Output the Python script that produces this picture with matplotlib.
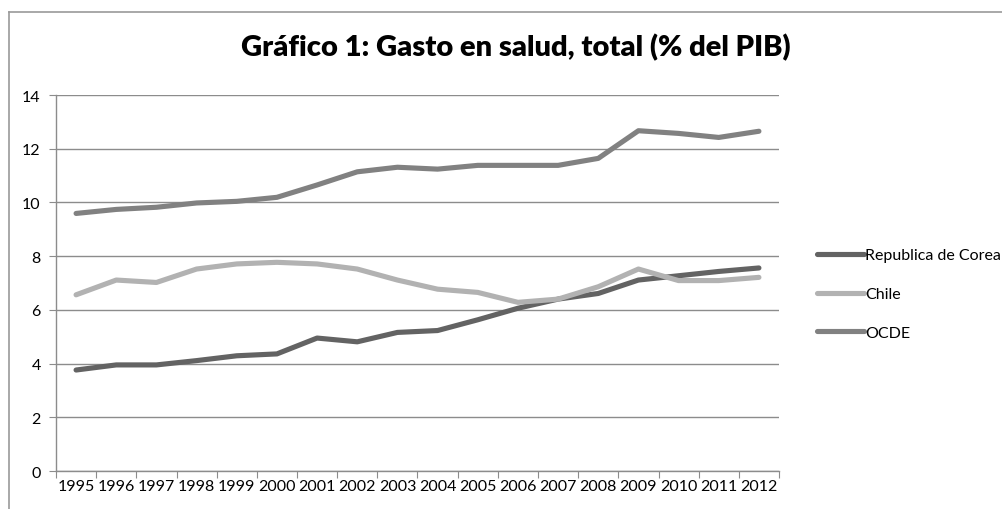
import numpy as np
import matplotlib.pyplot as plt
from matplotlib.lines import Line2D

plt.rcParams.update({"font.family": ["Lato", "DejaVu Sans"]})

years = ["1995", "1996", "1997", "1998", "1999", "2000", "2001", "2002", "2003",
         "2004", "2005", "2006", "2007", "2008", "2009", "2010", "2011", "2012"]

corea = [3.76, 3.95, 3.95, 4.11, 4.29, 4.36, 4.95, 4.81, 5.16,
         5.23, 5.63, 6.06, 6.40, 6.61, 7.11, 7.27, 7.43, 7.56]
chile = [6.56, 7.11, 7.02, 7.52, 7.71, 7.77, 7.71, 7.52, 7.11,
         6.77, 6.65, 6.28, 6.40, 6.86, 7.52, 7.09, 7.09, 7.21]
ocde = [9.59, 9.74, 9.82, 9.98, 10.04, 10.19, 10.65, 11.14, 11.31,
        11.24, 11.38, 11.38, 11.38, 11.64, 12.67, 12.57, 12.42, 12.65]

series = [("Republica de Corea", corea, "#636363"),
          ("Chile", chile, "#b2b2b2"),
          ("OCDE", ocde, "#818181")]

fig = plt.figure(figsize=(10.02, 5.10), dpi=100)
ax = fig.add_axes([56 / 1002, 1 - 472 / 510, 723 / 1002, 376 / 510])

x = np.arange(len(years))
for name, vals, col in series:
    ax.plot(x, vals, color=col, linewidth=3.7, solid_capstyle="round",
            solid_joinstyle="round", label=name, zorder=3)

ax.set_xlim(-0.5, len(years) - 0.5)
ax.set_ylim(0, 14)
ax.set_yticks(range(0, 15, 2))
ax.set_yticklabels([str(v) for v in range(0, 15, 2)], fontsize=11.5)
ax.yaxis.grid(True, color="#8c8c8c", linewidth=1.0)
ax.set_axisbelow(True)

# tick marks sit between the categories, labels sit on them
ax.set_xticks(np.arange(-0.5, len(years), 1.0))
ax.set_xticklabels([])
ax.set_xticks(x, minor=True)
ax.set_xticklabels(years, minor=True, fontsize=11.5)
ax.tick_params(axis="x", which="major", length=5, color="#8c8c8c", direction="out")
ax.tick_params(axis="x", which="minor", length=0, pad=6)
ax.tick_params(axis="y", length=5, color="#8c8c8c", pad=6)

for s in ["top", "right"]:
    ax.spines[s].set_visible(False)
for s in ["left", "bottom"]:
    ax.spines[s].set_color("#8c8c8c")
    ax.spines[s].set_linewidth(1.0)

fig.text(0.515, 1 - 48 / 510, "Gráfico 1: Gasto en salud, total (% del PIB)",
         ha="center", va="center", fontsize=21, fontweight="heavy")

handles = [Line2D([0], [0], color=col, linewidth=3.7, solid_capstyle="round")
           for _, _, col in series]
fig.legend(handles, [s[0] for s in series], loc="center left",
           bbox_to_anchor=(803 / 1002, 1 - 295 / 510), frameon=False,
           fontsize=11.5, handlelength=2.9, handletextpad=0.1, labelspacing=1.55)

# outer chart frame
fig.add_artist(Line2D([9 / 1002, 9 / 1002], [0, 1 - 13 / 510],
                      transform=fig.transFigure, color="#9a9a9a", linewidth=1.2))
fig.add_artist(Line2D([9 / 1002, 1], [1 - 13 / 510, 1 - 13 / 510],
                      transform=fig.transFigure, color="#9a9a9a", linewidth=1.2))

fig.savefig("out.png", dpi=100)
